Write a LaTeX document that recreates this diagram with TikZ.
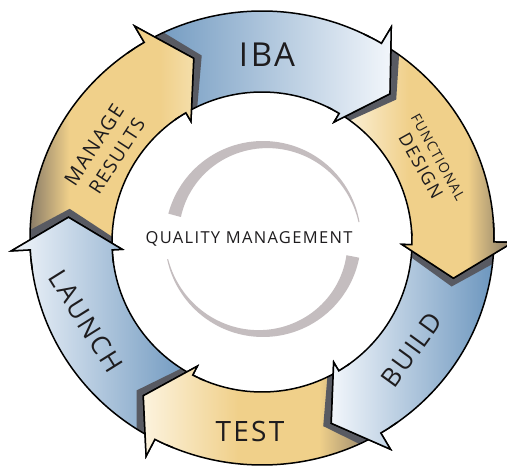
\documentclass[tikz,border=0pt]{standalone}
\usepackage{fontspec}
\setmainfont{Open Sans}
\newfontfamily\lblfont[LetterSpace=8]{Open Sans}
\usetikzlibrary{calc}
\definecolor{bdark}{RGB}{108,150,190}
\definecolor{blight}{RGB}{242,246,251}
\definecolor{gold}{RGB}{240,208,138}
\definecolor{cream}{RGB}{252,243,222}
\definecolor{brownd}{RGB}{128,116,100}
\definecolor{lgold}{RGB}{244,222,170}
\definecolor{shadowc}{RGB}{88,90,98}
\definecolor{qgray}{RGB}{196,189,191}
\definecolor{inkc}{RGB}{30,28,30}
\pgfdeclarehorizontalshading{bdl}{100bp}{color(0bp)=(bdark); color(25bp)=(bdark); color(75bp)=(blight); color(100bp)=(blight)}
\pgfdeclarehorizontalshading{bld}{100bp}{color(0bp)=(blight); color(25bp)=(blight); color(75bp)=(bdark); color(100bp)=(bdark)}
\pgfdeclarehorizontalshading{gfd}{100bp}{color(0bp)=(cream); color(25bp)=(cream); color(45bp)=(gold); color(62bp)=(gold); color(75bp)=(brownd); color(100bp)=(brownd)}
\pgfdeclarehorizontalshading{gmr}{100bp}{color(0bp)=(brownd); color(25bp)=(brownd); color(38bp)=(gold); color(65bp)=(gold); color(75bp)=(lgold); color(100bp)=(lgold)}
\newcommand\arrowpath[2]{($(Co)+(#1:232 and 227)$) arc[start angle=#1, end angle=#2, x radius=232, y radius=227] -- ($(Co)+(#2:251 and 246)$) -- ($(Ct)+({#2+10}:195)$) -- ($(Ci)+(#2:140)$) -- ($(Ci)+(#2:150)$) arc[start angle=#2, end angle=#1, radius=150] -- cycle}
\newcommand\arrowline[2]{($(Co)+(#1:232 and 227)$) arc[start angle=#1, end angle=#2, x radius=232, y radius=227] -- ($(Co)+(#2:251 and 246)$) -- ($(Ct)+({#2+10}:195)$) -- ($(Ci)+(#2:140)$) -- ($(Ci)+(#2:150)$) arc[start angle=#2, end angle=#1, radius=150]}
\newcommand\headclip[1]{($(Co)+({#1-3}:262 and 257)$) -- ($(Co)+(#1:251 and 246)$) -- ($(Ct)+({#1+10}:195)$) -- ($(Ci)+(#1:140)$) -- ($(Ci)+({#1-3}:125)$) -- cycle}
\newcommand\headline[1]{($(Co)+({#1-5}:232 and 227)$) arc[start angle={#1-5}, end angle=#1, x radius=232, y radius=227] -- ($(Co)+(#1:251 and 246)$) -- ($(Ct)+({#1+10}:195)$) -- ($(Ci)+(#1:140)$) -- ($(Ci)+(#1:150)$) arc[start angle=#1, end angle={#1-5}, radius=150]}
\newcommand\shadowtri[1]{($(Co)+({#1+2.5}:251 and 246)$) -- ($(Ct)+({#1+12.5}:195)$) -- ($(Ci)+({#1+2.5}:140)$) -- cycle}
\tikzset{
  outl/.style={draw=black, line width=1.5pt, line join=miter},
  lbl/.style={text=inkc, inner sep=0pt, anchor=center},
}
\begin{document}
\begin{tikzpicture}[x=1pt,y=-1pt]
\useasboundingbox (0,0) rectangle (507,473);
\fill[white] (0,0) rectangle (507,473);
\coordinate (Co) at (262,238);
\coordinate (Ci) at (262,242);
\coordinate (Ct) at (262,241);
% bodies
\foreach \a/\b/\s in {239.5/301/bdl, 301/361/gfd, 361/419.2/bld, 419.2/477.5/gfd, 477.5/537/bld, 537/599.5/gmr}{
  \shade[shading=\s] \arrowpath{\a}{\b};
}
% shadows
\begin{scope}[even odd rule]
\clip (Co) ellipse[x radius=232, y radius=227] (Ci) circle[radius=150];
\foreach \b in {301, 361, 419.2, 477.5, 537, 599.5}{
  \fill[shadowc] \shadowtri{\b};
}
\end{scope}
% outlines
\foreach \a/\b in {239.5/301, 301/361, 361/419.2, 419.2/477.5, 477.5/537, 537/599.5}{
  \draw[outl] \arrowline{\a}{\b};
}
% heads on top
\foreach \a/\b/\s in {239.5/301/bdl, 301/361/gfd, 361/419.2/bld, 419.2/477.5/gfd, 477.5/537/bld, 537/599.5/gmr}{
  \begin{scope}
    \clip \headclip{\b};
    \shade[shading=\s] \arrowpath{\a}{\b};
  \end{scope}
  \draw[outl] \headline{\b};
}
% centre swooshes
\fill[qgray] plot[domain=195:350, samples=60] ({263+98*cos(\x)},{239+98*sin(\x)}) -- plot[domain=350:195, samples=60] ({263+(97-12*(350-\x)/155)*cos(\x)},{239+(97-12*(350-\x)/155)*sin(\x)}) -- cycle;
\fill[qgray] plot[domain=11:168, samples=60] ({263+98*cos(\x)},{239+98*sin(\x)}) -- plot[domain=168:11, samples=60] ({263+(97-12*(\x-168)/(-157))*cos(\x)},{239+(97-12*(\x-168)/(-157))*sin(\x)}) -- cycle;
% labels
\node[lbl, font=\lblfont\fontsize{33pt}{36pt}\selectfont] (iba) at (267,55) {IBA};
\node[lbl, font=\lblfont\fontsize{14pt}{16pt}\selectfont, rotate=-61] (func) at (438,157) {FUNCTIONAL};
\node[lbl, font=\lblfont\fontsize{18pt}{20pt}\selectfont, rotate=-61] (design) at (421,166) {DESIGN};
\node[lbl, font=\lblfont\fontsize{26pt}{28pt}\selectfont, rotate=54] (build) at (412,350) {BUILD};
\node[lbl, font=\lblfont\fontsize{28pt}{30pt}\selectfont] (test) at (250,432) {TEST};
\node[lbl, font=\lblfont\fontsize{26pt}{28pt}\selectfont, rotate=-58] (launch) at (86,321) {LAUNCH};
\node[lbl, font=\lblfont\fontsize{20pt}{22pt}\selectfont, rotate=57] (manage) at (94,145) {MANAGE};
\node[lbl, font=\lblfont\fontsize{19pt}{21pt}\selectfont, rotate=57] (results) at (117,156) {RESULTS};
\node[lbl, font=\lblfont\fontsize{16.5pt}{18pt}\selectfont] (qm) at (249,239) {QUALITY MANAGEMENT};
\end{tikzpicture}
\end{document}
